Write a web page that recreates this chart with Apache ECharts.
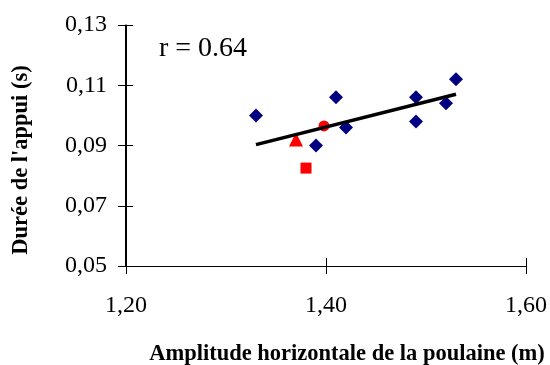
<!DOCTYPE html>
<html>
<head>
<meta charset="utf-8">
<script src="https://cdn.jsdelivr.net/npm/echarts@6/dist/echarts.min.js"></script>
<style>
html,body{margin:0;padding:0;background:#fff;}
#chart{width:550px;height:365px;}
</style>
</head>
<body>
<div id="chart"></div>
<script>
// Data
var blueX = [1.33, 1.41, 1.42, 1.39, 1.49, 1.49, 1.52, 1.53];
var blueY = [0.100, 0.106, 0.096, 0.090, 0.106, 0.098, 0.104, 0.112];
var triangleX = [1.37];
var triangleY = [0.092];
var squareX = [1.38];
var squareY = [0.0825];
var circleX = [1.398];
var circleY = [0.0965];
var trendX = [1.33, 1.53];
var trendY = [0.0903, 0.1070];
var xTicks = [1.20, 1.40, 1.60];
var yTicks = [0.05, 0.07, 0.09, 0.11, 0.13];
var rText = 'r = 0.64';
var xTitle = 'Amplitude horizontale de la poulaine (m)';
var yTitle = "Durée de l'appui (s)";

function pairs(xs, ys) { return xs.map(function (x, i) { return [x, ys[i]]; }); }
function fmt(v) { return v.toFixed(2).replace('.', ','); }

var FONT = '"Liberation Serif", "Times New Roman", serif';
var GL = 126, GR = 23, GT = 25, GB = 99;
var PW = 550 - GL - GR, PH = 365 - GT - GB;
var XMIN = xTicks[0], XMAX = xTicks[xTicks.length - 1];
var YMIN = yTicks[0], YMAX = yTicks[yTicks.length - 1];
var chart = echarts.init(document.getElementById('chart'));

chart.setOption({
  animation: false,
  backgroundColor: '#fff',
  grid: {left: GL, right: GR, top: GT, bottom: GB},
  xAxis: [
    {type: 'value', min: XMIN, max: XMAX, interval: 0.2, position: 'bottom',
     splitLine: {show: false},
     axisLine: {show: true, onZero: false, lineStyle: {color: '#000', width: 1}},
     axisTick: {show: true, length: 8, lineStyle: {color: '#000', width: 1}},
     axisLabel: {formatter: fmt, color: '#000', fontFamily: FONT, fontSize: 24, margin: 28}},
    {type: 'value', min: XMIN, max: XMAX, interval: 0.2, position: 'top', offset: -PH,
     splitLine: {show: false},
     axisLine: {show: true, onZero: false, lineStyle: {color: '#000', width: 1}},
     axisTick: {show: true, length: 8, lineStyle: {color: '#000', width: 1}},
     axisLabel: {show: false}}
  ],
  yAxis: [
    {type: 'value', min: YMIN, max: YMAX, interval: 0.02, position: 'left',
     splitLine: {show: false},
     axisLine: {show: true, onZero: false, lineStyle: {color: '#000', width: 1}},
     axisTick: {show: true, length: 8, lineStyle: {color: '#000', width: 1}},
     axisLabel: {formatter: fmt, color: '#000', fontFamily: FONT, fontSize: 24, margin: 19}},
    {type: 'value', min: YMIN, max: YMAX, interval: 0.02, position: 'right', offset: -PW,
     splitLine: {show: false},
     axisLine: {show: true, lineStyle: {color: '#000', width: 1}},
     axisTick: {show: true, length: 8, lineStyle: {color: '#000', width: 1}},
     axisLabel: {show: false}}
  ],
  graphic: [
    {type: 'text', left: 159, top: 35, style: {text: rText, font: '28px ' + FONT, fill: '#000'}},
    {type: 'text', x: 347, y: 354, style: {text: xTitle, font: 'bold 22.5px ' + FONT, fill: '#000', textAlign: 'center', textVerticalAlign: 'middle'}},
    {type: 'text', x: 21, y: 160, rotation: Math.PI / 2, style: {text: yTitle, font: 'bold 22.5px ' + FONT, fill: '#000', textAlign: 'center', textVerticalAlign: 'middle'}}
  ],
  series: [
    {type: 'line', data: pairs(trendX, trendY), symbol: 'none', lineStyle: {color: '#000', width: 3.5}, z: 3},
    {type: 'scatter', data: pairs(blueX, blueY), symbol: 'diamond', symbolSize: 14, itemStyle: {color: '#000080', opacity: 1}, z: 2},
    {type: 'scatter', data: pairs(triangleX, triangleY), symbol: 'triangle', symbolSize: 14, itemStyle: {color: '#ff0000', opacity: 1}, z: 2},
    {type: 'scatter', data: pairs(squareX, squareY), symbol: 'rect', symbolSize: 11, itemStyle: {color: '#ff0000', opacity: 1}, z: 2},
    {type: 'scatter', data: pairs(circleX, circleY), symbol: 'circle', symbolSize: 11, itemStyle: {color: '#ff0000', opacity: 1}, z: 2}
  ]
});
</script>
</body>
</html>
